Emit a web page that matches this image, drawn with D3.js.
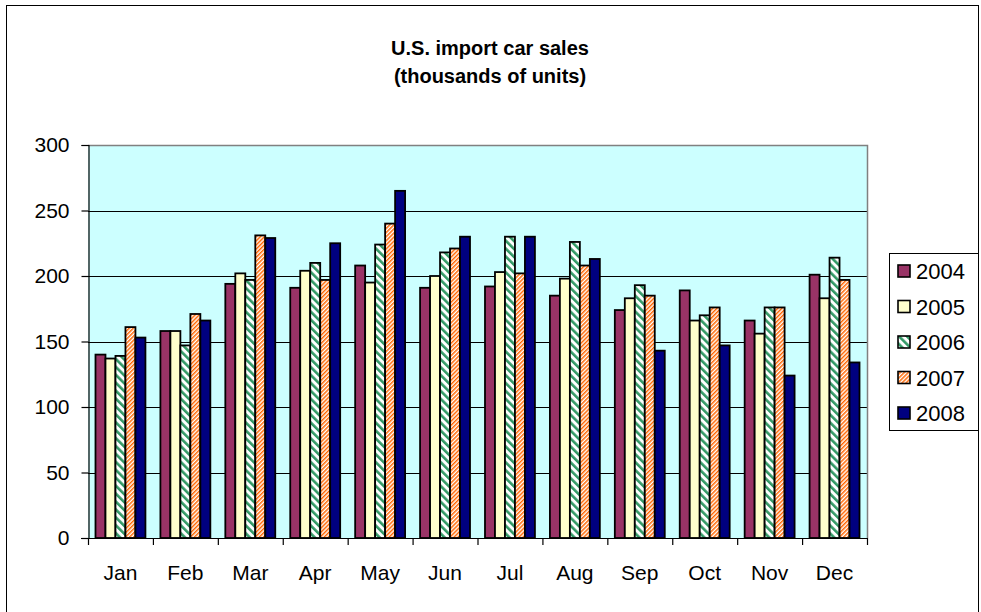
<!DOCTYPE html>
<meta charset="utf-8">
<html lang="en">
<head>
<title>U.S. import car sales</title>
<script src="https://d3js.org/d3.v7.min.js"></script>
<style>
  html, body { margin: 0; padding: 0; background: #fff; }
  svg text { font-family: Arial, "Liberation Sans", sans-serif; fill: #000; }
</style>
</head>
<body>
<div id="chart"></div>
<script>
// data
var months = ["Jan", "Feb", "Mar", "Apr", "May", "Jun", "Jul", "Aug", "Sep", "Oct", "Nov", "Dec"];
var years = ["2004", "2005", "2006", "2007", "2008"];
var sales2004 = [140, 158, 194, 191, 208, 191, 192, 185, 174, 189, 166, 201];
var sales2005 = [137, 158, 202, 204, 195, 200, 203, 198, 183, 166, 156, 183];
var sales2006 = [139, 147, 197, 210, 224, 218, 230, 226, 193, 170, 176, 214];
var sales2007 = [161, 171, 231, 197, 240, 221, 202, 208, 185, 176, 176, 197];
var sales2008 = [153, 166, 229, 225, 265, 230, 230, 213, 143, 147, 124, 134];
var yTicks = [0, 50, 100, 150, 200, 250, 300];

var series = [sales2004, sales2005, sales2006, sales2007, sales2008];

var W = 981, H = 612;
var plot = { left: 88, top: 145, right: 867, bottom: 538 };

var svg = d3.select("#chart").append("svg")
    .attr("width", W)
    .attr("height", H);

// fills: solid colours and two hatch patterns
var defs = svg.append("defs");

var green = defs.append("pattern")
    .attr("id", "hatch2006")
    .attr("patternUnits", "userSpaceOnUse")
    .attr("width", 5.6).attr("height", 5.6)
    .attr("patternTransform", "rotate(-45)");
green.append("rect").attr("width", 5.6).attr("height", 5.6).attr("fill", "#fff");
green.append("rect").attr("width", 2.6).attr("height", 5.6).attr("fill", "#339966");

var orange = defs.append("pattern")
    .attr("id", "hatch2007")
    .attr("patternUnits", "userSpaceOnUse")
    .attr("width", 2.9).attr("height", 2.9)
    .attr("patternTransform", "rotate(45)");
orange.append("rect").attr("width", 2.9).attr("height", 2.9).attr("fill", "#fff");
orange.append("rect").attr("width", 1.5).attr("height", 2.9).attr("fill", "#ff6600");

var fills = ["#993366", "#ffffcc", "url(#hatch2006)", "url(#hatch2007)", "#000080"];

// outer chart frame (cut off at the bottom)
svg.append("rect")
    .attr("x", 6.5).attr("y", 5.5)
    .attr("width", 972).attr("height", 640)
    .attr("fill", "none")
    .attr("stroke", "#000")
    .attr("stroke-width", 1);

// title
var title = svg.append("text")
    .attr("text-anchor", "middle")
    .attr("font-size", "20px")
    .attr("font-weight", "bold");
title.append("tspan").attr("x", 490).attr("y", 55).text("U.S. import car sales");
title.append("tspan").attr("x", 490).attr("y", 83).text("(thousands of units)");

// scales
var x = d3.scaleBand()
    .domain(months)
    .range([plot.left, plot.right])
    .paddingInner(0.2308)
    .paddingOuter(0.1154);

var xYear = d3.scaleBand()
    .domain(years)
    .range([0, x.bandwidth()]);

var y = d3.scaleLinear()
    .domain([0, 300])
    .range([plot.bottom, plot.top]);

// plot area
svg.append("rect")
    .attr("x", plot.left).attr("y", plot.top)
    .attr("width", plot.right - plot.left)
    .attr("height", plot.bottom - plot.top)
    .attr("fill", "#ccffff");

svg.append("g")
    .selectAll("line")
    .data(yTicks.filter(function (d) { return d > 0 && d < 300; }))
    .enter().append("line")
    .attr("x1", plot.left).attr("x2", plot.right)
    .attr("y1", function (d) { return Math.round(y(d)) + 0.5; })
    .attr("y2", function (d) { return Math.round(y(d)) + 0.5; })
    .attr("stroke", "#000")
    .attr("stroke-width", 1);

// grey border on top and right
svg.append("path")
    .attr("d", "M" + plot.left + "," + (plot.top + 0.5) + "H" + (plot.right + 0.5) + "V" + plot.bottom)
    .attr("fill", "none")
    .attr("stroke", "#808080")
    .attr("stroke-width", 1.5);

// bars
var groups = svg.append("g")
    .selectAll("g")
    .data(months)
    .enter().append("g")
    .attr("transform", function (m) { return "translate(" + x(m) + ",0)"; });

groups.selectAll("rect")
    .data(function (m, i) {
        return years.map(function (yr, j) { return { year: yr, idx: j, value: series[j][i] }; });
    })
    .enter().append("rect")
    .attr("x", function (d) { return xYear(d.year); })
    .attr("y", function (d) { return y(d.value); })
    .attr("width", xYear.bandwidth())
    .attr("height", function (d) { return y(0) - y(d.value); })
    .attr("fill", function (d) { return fills[d.idx]; })
    .attr("stroke", "#000")
    .attr("stroke-width", 1.8);

// y axis
var yAxis = d3.axisLeft(y)
    .tickValues(yTicks)
    .tickSize(7)
    .tickPadding(12);

svg.append("g")
    .attr("transform", "translate(" + (plot.left + 0.5) + ",0)")
    .call(yAxis)
    .call(function (g) {
        g.selectAll(".tick line").attr("stroke", "#000").attr("stroke-width", 1.2);
        g.select(".domain").attr("stroke", "#000").attr("stroke-width", 1.2);
        g.selectAll("text").attr("font-size", "21px").attr("font-family", "Arial, 'Liberation Sans', sans-serif");
    });

// x axis: line at zero with ticks between categories
var xAxis = svg.append("g");
xAxis.append("line")
    .attr("x1", plot.left - 7).attr("x2", plot.right + 0.5)
    .attr("y1", plot.bottom + 0.5).attr("y2", plot.bottom + 0.5)
    .attr("stroke", "#000")
    .attr("stroke-width", 1.2);

var step = x.step();
xAxis.selectAll(".sep")
    .data(d3.range(months.length + 1))
    .enter().append("line")
    .attr("class", "sep")
    .attr("x1", function (i) { return plot.left + i * step + 0.5; })
    .attr("x2", function (i) { return plot.left + i * step + 0.5; })
    .attr("y1", plot.bottom)
    .attr("y2", plot.bottom + 7)
    .attr("stroke", "#000")
    .attr("stroke-width", 1.2);

xAxis.selectAll(".mlabel")
    .data(months)
    .enter().append("text")
    .attr("class", "mlabel")
    .attr("x", function (m) { return x(m) + x.bandwidth() / 2; })
    .attr("y", 580)
    .attr("text-anchor", "middle")
    .attr("font-size", "21px")
    .text(function (m) { return m; });

// legend
var legend = svg.append("g");
legend.append("rect")
    .attr("x", 889.5).attr("y", 253.5)
    .attr("width", 89).attr("height", 177)
    .attr("fill", "#fff")
    .attr("stroke", "#000")
    .attr("stroke-width", 1);

var item = legend.selectAll(".item")
    .data(years)
    .enter().append("g")
    .attr("class", "item")
    .attr("transform", function (d, i) { return "translate(0," + (271 + i * 35.5) + ")"; });

item.append("rect")
    .attr("x", 898).attr("y", -6)
    .attr("width", 12).attr("height", 12)
    .attr("fill", function (d, i) { return fills[i]; })
    .attr("stroke", "#000")
    .attr("stroke-width", 1.6);

item.append("text")
    .attr("x", 916)
    .attr("y", 8)
    .attr("font-size", "22px")
    .text(function (d) { return d; });
</script>
</body>
</html>
